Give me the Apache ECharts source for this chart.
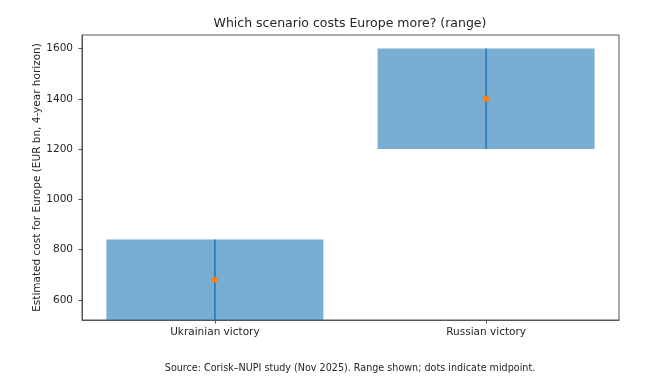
<!DOCTYPE html>
<html>
<head>
<meta charset="utf-8">
<script src="https://cdn.jsdelivr.net/npm/echarts@6/dist/echarts.min.js"></script>
<style>html,body{margin:0;padding:0;background:#fff}#c{width:650px;height:392px}</style>
</head>
<body>
<div id="c"></div>
<script>
const categories = ["Ukrainian victory", "Russian victory"];
const lows = [520, 1200];
const highs = [840, 1600];
const mids = [680, 1400];
const yTicks = [600, 800, 1000, 1200, 1400, 1600];

const FONT = "DejaVu Sans";
const TXT = "#262626";
const chart = echarts.init(document.getElementById('c'), null, {renderer: 'canvas'});

const rangeData = categories.map((c, i) => [i, lows[i], highs[i]]);
const midData = categories.map((c, i) => [i, mids[i]]);

chart.setOption({
  animation: false,
  graphic: [
    {type: 'text', x: 350, y: 23.5, style: {text: "Which scenario costs Europe more? (range)", font: "12.5px " + FONT, fill: TXT, align: 'center', verticalAlign: 'middle'}},
    {type: 'text', x: 350, y: 368, style: {text: "Source: Corisk\u2013NUPI study (Nov 2025). Range shown; dots indicate midpoint.", font: "9.6px " + FONT, fill: TXT, align: 'center', verticalAlign: 'middle'}}
  ],
  grid: {left: 82, right: 31, top: 35, bottom: 72, show: true, borderColor: '#555', borderWidth: 1, backgroundColor: 'transparent'},
  xAxis: {
    type: 'value', min: -0.49, max: 1.49,
    axisLine: {show: true, onZero: false, lineStyle: {color: '#555'}},
    axisTick: {show: true, customValues: [0, 1], length: 3.5, lineStyle: {color: '#555'}},
    axisLabel: {customValues: [0, 1], formatter: v => categories[Math.round(v)] || '', fontFamily: FONT, fontSize: 10.5, color: TXT, margin: 7},
    splitLine: {show: false}
  },
  yAxis: {
    type: 'value', min: 520, max: 1654,
    name: "Estimated cost for Europe (EUR bn, 4-year horizon)",
    nameLocation: 'middle', nameGap: 39, nameMoveOverlap: false,
    nameTextStyle: {fontFamily: FONT, fontSize: 10.5, color: TXT},
    axisLine: {show: true, onZero: false, lineStyle: {color: '#555'}},
    axisTick: {show: true, customValues: yTicks, length: 3.5, lineStyle: {color: '#555'}},
    axisLabel: {customValues: yTicks, formatter: v => String(v), fontFamily: FONT, fontSize: 10.5, color: TXT, margin: 9},
    splitLine: {show: false}
  },
  series: [
    {
      type: 'custom',
      data: rangeData,
      clip: true,
      renderItem: function (params, api) {
        const x = api.value(0), lo = api.value(1), hi = api.value(2);
        const p1 = api.coord([x - 0.4, hi]);
        const p2 = api.coord([x + 0.4, lo]);
        const t = api.coord([x, hi]);
        const b = api.coord([x, lo]);
        return {
          type: 'group',
          children: [
            {type: 'rect', shape: {x: p1[0], y: p1[1], width: p2[0] - p1[0], height: p2[1] - p1[1]}, style: {fill: 'rgba(31,119,180,0.6)'}},
            {type: 'line', shape: {x1: t[0], y1: t[1], x2: b[0], y2: b[1]}, style: {stroke: '#1f77b4', lineWidth: 1.5}}
          ]
        };
      }
    },
    {
      type: 'scatter',
      data: midData,
      symbol: 'circle',
      symbolSize: 6,
      itemStyle: {color: '#ff7f0e', opacity: 1},
      z: 5
    }
  ]
});
</script>
</body>
</html>
